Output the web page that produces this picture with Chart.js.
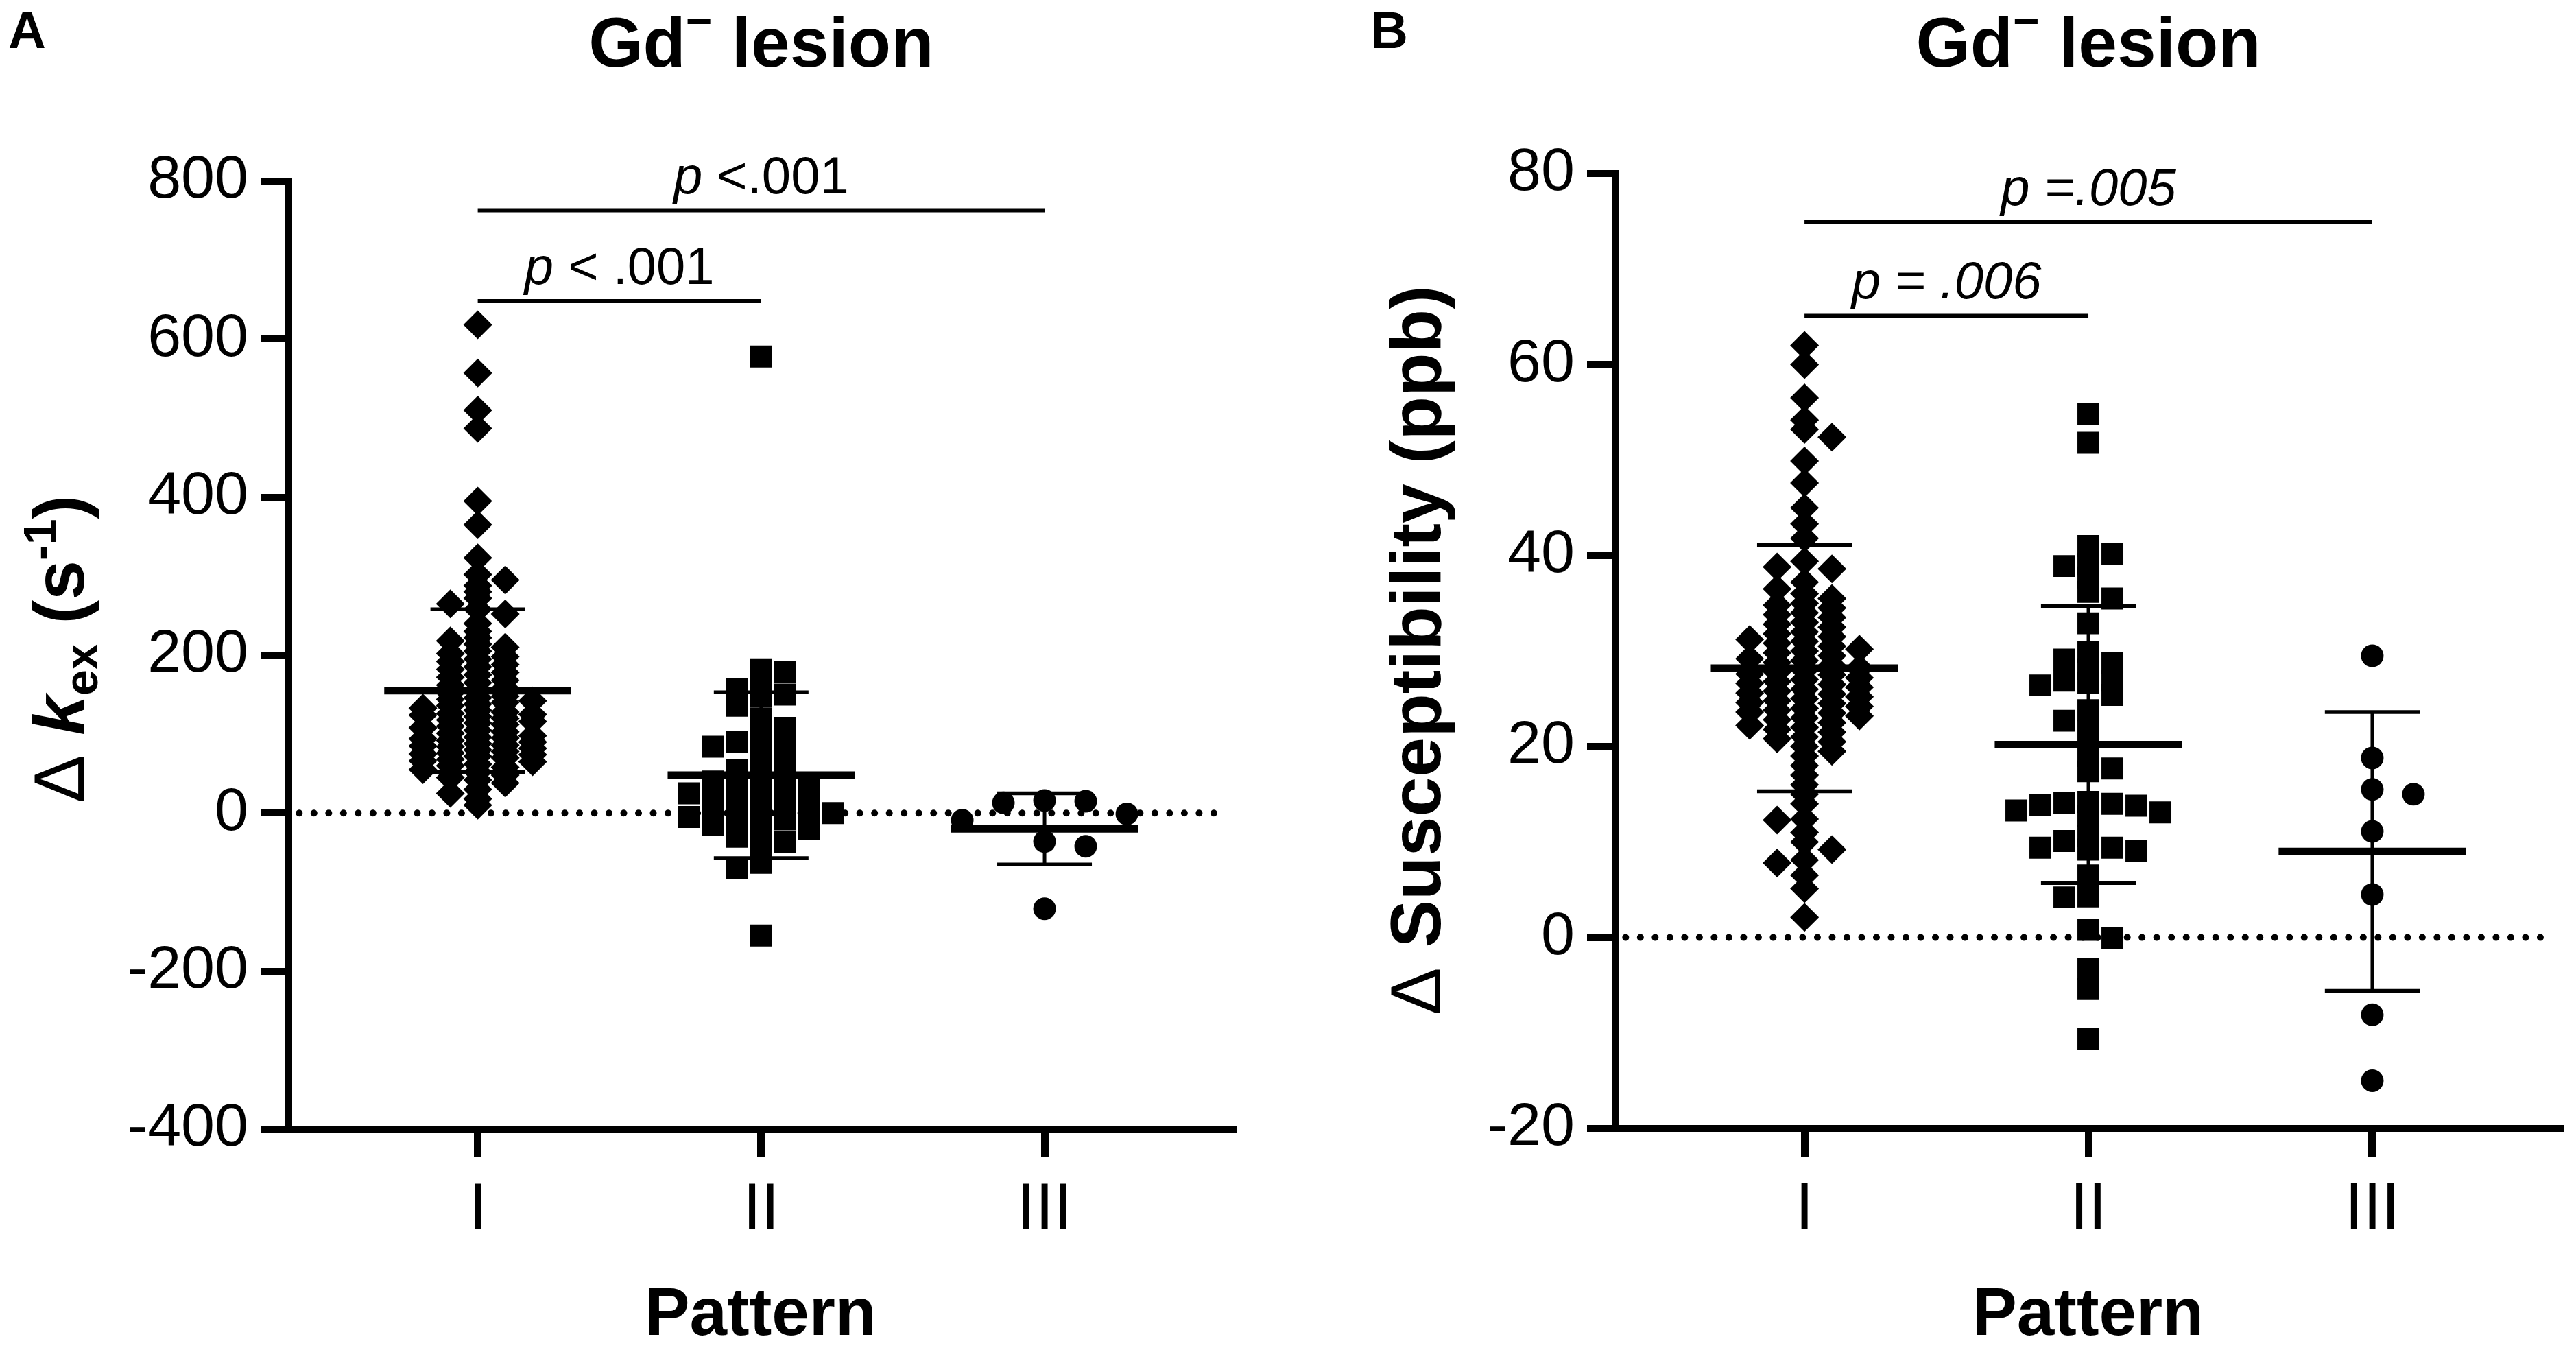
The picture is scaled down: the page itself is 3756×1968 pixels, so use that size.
<!DOCTYPE html>
<html>
<head>
<meta charset="utf-8">
<title>Gd- lesion patterns</title>
<script src="https://cdn.jsdelivr.net/npm/chart.js@4.4.1/dist/chart.umd.min.js"></script>
<style>
  html, body { margin: 0; padding: 0; background: #fff; }
  #wrap { display: flex; width: 3756px; height: 1968px; }
  canvas { display: block; }
</style>
</head>
<body>
<div id="wrap">
  <canvas id="chartA" width="1878" height="1968"></canvas>
  <canvas id="chartB" width="1878" height="1968"></canvas>
</div>
<script>
const patterns = ['I', 'II', 'III'];

// panel A - delta kex (s^-1)
const kexPatternI = [618, 557, 510, 487, 395, 365, 323, 302,
  295, 288, 280, 272, 265, 258, 252,
  240, 230, 222, 218, 214, 210, 205, 202,
  198, 195, 192, 188, 185, 182, 178, 175, 172, 168, 165, 162, 158, 155, 152,
  148, 146, 144, 142, 140, 138, 136, 133, 130, 128, 126, 125, 124, 122, 120, 118, 116, 114, 112, 110, 108, 105, 103, 101,
  98, 96, 95, 94, 92, 90, 88, 86, 85, 84, 82, 80, 78, 76, 75, 74, 72, 70, 68, 66, 65, 62, 60, 58, 55, 52,
  48, 45, 42, 38, 30, 25, 18, 10];
const kexPatternII = [578, 182, 179, 164, 157, 150, 148, 136, 120, 108, 97, 90, 84, 84, 70, 62,
  55, 49, 44, 40, 38, 35, 30, 28, 25, 22, 19, 15, 12, 8, 5, 3, 0, -2, -5, -5, -8, -11,
  -15, -20, -25, -30, -37, -45, -63, -70, -155];
const kexPatternIII = [16, -9, 13, -42, -1, -36, 15, -121];
const kexMean = [155, 48, -20];
const kexSD = [103, 105, 45];
const kexTicks = [-400, -200, 0, 200, 400, 600, 800];
const kexSigPairs = [[0, 2], [0, 1]];
const kexSigLevels = [763, 648];
const kexSigLabels = ['p <.001', 'p < .001'];

// panel B - delta susceptibility (ppb)
const suscPatternI = [62.0, 60.0, 56.5, 54.2, 53.2, 52.4, 49.9, 47.6, 45.0, 43.3, 41.8, 39.4, 38.8, 38.6, 37.2, 36.5,
  36, 35.5, 35, 34.8, 34.5, 34, 33.8, 33.5, 33, 32.8, 32.5, 32, 31.8, 31.5, 31.2, 31, 30.8, 30.5, 30.2, 30,
  29.8, 29.5, 29.2, 29, 28.8, 28.5, 28.2, 28, 27.8, 27.6, 27.5, 27.2, 27, 26.8, 26.6, 26.5, 26.2, 26,
  25.8, 25.6, 25.5, 25.2, 25, 24.8, 24.6, 24.5, 24.2, 24, 23.8, 23.6, 23.5, 23.2, 23, 22.8, 22.5, 22.2,
  22, 21.8, 21.5, 21, 20.8, 20.5, 20, 19.5, 19, 18, 17, 16, 15, 14,
  12.4, 12.3, 11.0, 10.0, 9.2, 8.1, 7.8, 6.5, 5.1, 2.1];
const suscPatternII = [54.8, 51.8, 41.0, 40.2, 39.1, 38.9, 37.7, 36.2, 35.5, 32.9, 29.9, 28.7, 29.1, 28.1,
  26.9, 26.4, 26.9, 26.7, 25.4, 23.8, 22.7, 21.6, 19.0, 17.4, 17.7, 14.1, 12.7, 13.3, 14.2, 14.0,
  13.9, 13.8, 13.1, 10.6, 9.4, 9.4, 10.1, 9.1, 9.2, 6.5, 4.3, 4.2, 0.8, -0.1, -3.3, -5.4, -10.6];
const suscPatternIII = [29.5, 18.8, 15.0, 15.5, 11.1, 4.5, -8.1, -15.0];
const suscMean = [28.2, 20.2, 9.0];
const suscSD = [12.9, 14.5, 14.6];
const suscTicks = [-20, 0, 20, 40, 60, 80];
const suscSigPairs = [[0, 2], [0, 1]];
const suscSigLevels = [74.9, 65.1];
const suscSigLabels = ['p =.005', 'p = .006'];

const BLACK = '#000';
const SANS = "'Liberation Sans', Arial, sans-serif";

// marker look per pattern: diamond, square, circle
const markers = [
  { style: 'rectRot', radius: 21, sx: 40, sy: 40, maxHalf: 115 },
  { style: 'rect', radius: 22.6, sx: 35, sy: 33, maxHalf: 125 },
  { style: 'circle', radius: 16.5, sx: 60, sy: 34, maxHalf: 125 }
];

function seg(x1, y1, x2, y2, width, extra) {
  return Object.assign({
    type: 'scatter',
    data: [{ x: x1, y: y1 }, { x: x2, y: y2 }],
    showLine: true,
    borderColor: BLACK,
    borderWidth: width,
    pointRadius: 0,
    order: 1
  }, extra || {});
}

// scatter dot plot offsets, GraphPad style: points pushed sideways on a half-slot grid
function swarm(values, yScale, unitX, mk) {
  const ys = values.map(v => yScale.getPixelForValue(v));
  const order = values.map((v, i) => i).sort((a, b) => values[b] - values[a]);
  let sy = mk.sy;
  let offs = [];
  for (let iter = 0; iter < 60; iter++) {
    const placed = [];
    let maxOff = 0, flip = 1;
    offs = new Array(values.length).fill(0);
    order.forEach(i => {
      const y = ys[i];
      let chosen = null;
      for (let k = 0; k <= 60 && chosen === null; k++) {
        const d = k * mk.sx / 2;
        const cands = k === 0 ? [0] : [flip * d, -flip * d];
        for (const dx of cands) {
          const hit = placed.some(p => Math.abs(p.x - dx) < mk.sx - 0.5 && Math.abs(p.y - y) < sy);
          if (!hit) { chosen = dx; break; }
        }
      }
      if (chosen !== 0) flip = -flip;
      placed.push({ x: chosen, y: y });
      offs[i] = chosen;
      maxOff = Math.max(maxOff, Math.abs(chosen));
    });
    if (maxOff <= mk.maxHalf) break;
    sy *= 0.9;
  }
  return offs.map(o => o / unitX);
}

function drawRuns(ctx, runs, x, y) {
  let total = 0;
  runs.forEach(r => { ctx.font = r.font; r.w = ctx.measureText(r.text).width; total += r.w; });
  let cx = x - total / 2;
  runs.forEach(r => {
    ctx.font = r.font;
    ctx.fillText(r.text, cx, y + (r.dy || 0));
    cx += r.w;
  });
}

function makePanel(id, p) {
  const datasets = [];

  // dotted zero line
  datasets.push(seg(-0.63, 0, 2.63, 0, 10, {
    borderDash: [0.01, 21.5], borderCapStyle: 'round', order: 10
  }));

  // points
  p.groups.forEach((vals, g) => {
    datasets.push({
      type: 'scatter',
      swarmGroup: g,
      data: vals.map(v => ({ x: g, y: v })),
      pointStyle: markers[g].style,
      pointRadius: markers[g].radius,
      pointBackgroundColor: BLACK,
      pointBorderWidth: 0,
      order: 5
    });
  });

  // mean and SD
  p.mean.forEach((m, g) => {
    const sd = p.sd[g];
    datasets.push(seg(g - 0.33, m, g + 0.33, m, 11));
    datasets.push(seg(g, m - sd, g, m + sd, 5));
    datasets.push(seg(g - 0.167, m + sd, g + 0.167, m + sd, 5.5));
    datasets.push(seg(g - 0.167, m - sd, g + 0.167, m - sd, 5.5));
  });

  // comparison bars
  p.sigPairs.forEach((pair, i) => {
    datasets.push(seg(pair[0], p.sigLevels[i], pair[1], p.sigLevels[i], 6));
  });

  const textPlugin = {
    id: 'panelText',
    afterDraw(chart) {
      const ctx = chart.ctx;
      const xs = chart.scales.x, ys = chart.scales.y;
      ctx.save();
      ctx.fillStyle = BLACK;
      ctx.textBaseline = 'alphabetic';
      ctx.textAlign = 'left';

      // panel letter
      ctx.font = 'bold 76px ' + SANS;
      ctx.fillText(p.letter, p.letterX, 70);

      // title
      drawRuns(ctx, [
        { text: 'Gd', font: 'bold 102px ' + SANS },
        { text: '\u2212', font: 'bold 66px ' + SANS, dy: -44 },
        { text: ' lesion', font: 'bold 102px ' + SANS }
      ], xs.getPixelForValue(1), 97);

      // p values
      p.sigPairs.forEach((pair, i) => {
        const label = p.sigLabels[i];
        const mid = (xs.getPixelForValue(pair[0]) + xs.getPixelForValue(pair[1])) / 2;
        const y = ys.getPixelForValue(p.sigLevels[i]) - 25;
        drawRuns(ctx, [
          { text: label.slice(0, 1), font: 'italic 76px ' + SANS },
          { text: label.slice(1), font: (p.sigItalic ? 'italic ' : '') + '76px ' + SANS }
        ], mid, y);
      });

      // y axis title, rotated
      ctx.translate(p.yTitleX, p.yTitleY);
      ctx.rotate(-Math.PI / 2);
      drawRuns(ctx, p.yTitleRuns, 0, 0);
      ctx.restore();
    }
  };

  const chart = new Chart(document.getElementById(id), {
    type: 'scatter',
    data: { datasets: datasets },
    options: {
      responsive: false,
      maintainAspectRatio: false,
      devicePixelRatio: 1,
      animation: false,
      events: [],
      layout: { padding: { left: 0, right: p.padRight, top: p.top, bottom: 0 } },
      plugins: { legend: { display: false }, tooltip: { enabled: false }, title: { display: false } },
      scales: {
        x: {
          type: 'linear',
          min: -0.667,
          max: 2.663,
          afterBuildTicks: s => { s.ticks = [0, 1, 2].map(v => ({ value: v })); },
          afterFit: s => { s.height = 1968 - p.bottom; },
          ticks: {
            autoSkip: false, maxRotation: 0, padding: 21, color: BLACK,
            font: { family: SANS, size: 96 },
            callback: v => patterns[v]
          },
          grid: { drawOnChartArea: false, drawTicks: true, tickLength: 41, lineWidth: 11, color: BLACK },
          border: { display: true, width: 10, color: BLACK },
          title: {
            display: true, text: 'Pattern', color: BLACK,
            font: { family: SANS, size: 98, weight: 'bold', lineHeight: 1 },
            padding: { top: 0, bottom: 0 }
          }
        },
        y: {
          type: 'linear',
          min: p.ticks[0],
          max: p.ticks[p.ticks.length - 1],
          afterBuildTicks: s => { s.ticks = p.ticks.map(v => ({ value: v })); },
          afterFit: s => { s.width = p.axisLeft; },
          ticks: {
            autoSkip: false, padding: 18, color: BLACK,
            font: { family: SANS, size: 88 },
            callback: v => String(v)
          },
          grid: { drawOnChartArea: false, drawTicks: true, tickLength: 41, lineWidth: 10, color: BLACK },
          border: { display: true, width: 10, color: BLACK }
        }
      }
    },
    plugins: [textPlugin]
  });

  // spread points sideways now that the scales exist
  const xs = chart.scales.x, ys = chart.scales.y;
  const unitX = xs.getPixelForValue(1) - xs.getPixelForValue(0);
  chart.data.datasets.forEach(ds => {
    if (ds.swarmGroup === undefined) return;
    const g = ds.swarmGroup;
    const vals = p.groups[g];
    const offs = swarm(vals, ys, unitX, markers[g]);
    ds.data = vals.map((v, i) => ({ x: g + offs[i], y: v }));
  });
  chart.update('none');
  return chart;
}

makePanel('chartA', {
  letter: 'A', letterX: 12,
  groups: [kexPatternI, kexPatternII, kexPatternIII],
  mean: kexMean, sd: kexSD, ticks: kexTicks,
  sigPairs: kexSigPairs, sigLevels: kexSigLevels, sigLabels: kexSigLabels, sigItalic: false,
  axisLeft: 421, padRight: 81, top: 264, bottom: 1646,
  yTitleX: 122, yTitleY: 946,
  yTitleRuns: [
    { text: '\u0394 ', font: '104px ' + SANS },
    { text: 'k', font: 'italic bold 104px ' + SANS },
    { text: 'ex', font: 'bold 68px ' + SANS, dy: 20 },
    { text: ' (s', font: 'bold 104px ' + SANS },
    { text: '-1', font: 'bold 68px ' + SANS, dy: -40 },
    { text: ')', font: 'bold 104px ' + SANS }
  ]
});

makePanel('chartB', {
  letter: 'B', letterX: 120,
  groups: [suscPatternI, suscPatternII, suscPatternIII],
  mean: suscMean, sd: suscSD, ticks: suscTicks,
  sigPairs: suscSigPairs, sigLevels: suscSigLevels, sigLabels: suscSigLabels, sigItalic: true,
  axisLeft: 477, padRight: 15, top: 253, bottom: 1645,
  yTitleX: 222, yTitleY: 948,
  yTitleRuns: [
    { text: '\u0394 ', font: '104px ' + SANS },
    { text: 'Susceptibility (ppb)', font: 'bold 104px ' + SANS }
  ]
});
</script>
</body>
</html>
